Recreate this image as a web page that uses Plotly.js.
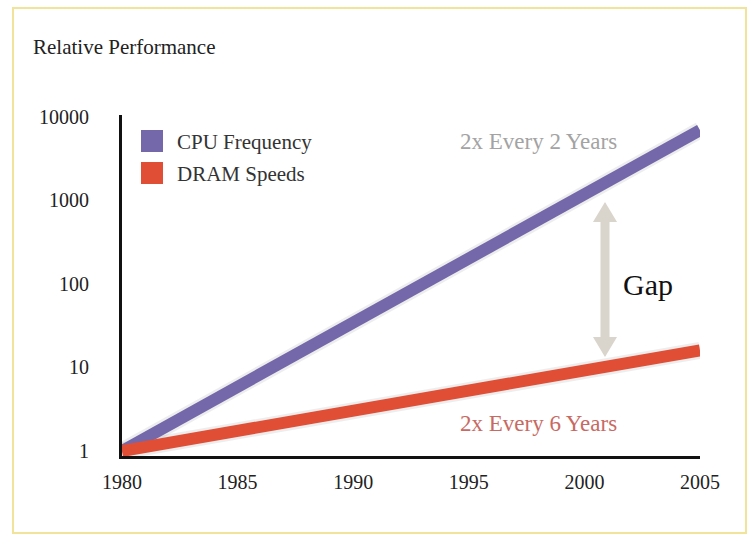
<!DOCTYPE html>
<html>
<head>
<meta charset="utf-8">
<script src="https://cdn.plot.ly/plotly-3.0.1.min.js"></script>
<style>
  html, body { margin: 0; padding: 0; background: #ffffff; }
  #chart { width: 751px; height: 536px; }
</style>
</head>
<body>
<div id="chart"></div>
<script>
// ---- data ----
const years = [1980, 2005];
const cpuFrequency = [1, 6900];
const dramSpeeds = [1, 16];
const seriesNames = ['CPU Frequency', 'DRAM Speeds'];
const xTickVals = [1980, 1985, 1990, 1995, 2000, 2005];
const xTickText = ['1980', '1985', '1990', '1995', '2000', '2005'];
const yTickVals = [1, 10, 100, 1000, 10000];
const yTickText = ['1', '10', '100', '1000', '10000'];
const cpuNote = '2x Every 2 Years';
const dramNote = '2x Every 6 Years';
const gapLabel = 'Gap';
const chartTitle = 'Relative Performance';

// ---- styling / layout ----
const W = 751, H = 536;
const M = { l: 122, r: 51, t: 115, b: 80 };
const PW = W - M.l - M.r, PH = H - M.t - M.b;
const px = v => (v - M.l) / PW;            // pixel x -> paper x
const py = v => (M.t + PH - v) / PH;       // pixel y -> paper y
const serif = 'Liberation Serif, Times New Roman, serif';
const cpuColor = '#7467aa';
const dramColor = '#e14e36';

const traces = [
  { x: years, y: cpuFrequency, mode: 'lines', name: seriesNames[0],
    line: { color: 'rgba(0,0,0,0.07)', width: 17 }, hoverinfo: 'skip', showlegend: false },
  { x: years, y: dramSpeeds, mode: 'lines', name: seriesNames[1],
    line: { color: 'rgba(0,0,0,0.07)', width: 17 }, hoverinfo: 'skip', showlegend: false },
  { x: years, y: cpuFrequency, mode: 'lines', name: seriesNames[0],
    line: { color: cpuColor, width: 12 }, showlegend: false },
  { x: years, y: dramSpeeds, mode: 'lines', name: seriesNames[1],
    line: { color: dramColor, width: 12 }, showlegend: false }
];

// gap arrow (double headed) in pixels
const ax = 605, aTop = 202, aBot = 357, sh = 4.5, hh = 12, hl = 20;
const arrowPts = [
  [ax, aTop], [ax + hh, aTop + hl], [ax + sh, aTop + hl], [ax + sh, aBot - hl],
  [ax + hh, aBot - hl], [ax, aBot], [ax - hh, aBot - hl], [ax - sh, aBot - hl],
  [ax - sh, aTop + hl], [ax - hh, aTop + hl]
];
const arrowPath = 'M ' + arrowPts.map(p => px(p[0]).toFixed(5) + ',' + py(p[1]).toFixed(5)).join(' L ') + ' Z';

const shapes = [
  // outer yellow frame
  { type: 'rect', xref: 'paper', yref: 'paper', x0: px(13), x1: px(746), y0: py(533), y1: py(8),
    line: { color: '#f2e39a', width: 2 }, fillcolor: 'rgba(0,0,0,0)', layer: 'below' },
  // legend swatches
  { type: 'rect', xref: 'paper', yref: 'paper', x0: px(141), x1: px(163), y0: py(152), y1: py(130),
    line: { width: 0 }, fillcolor: cpuColor },
  { type: 'rect', xref: 'paper', yref: 'paper', x0: px(141), x1: px(163), y0: py(184), y1: py(162),
    line: { width: 0 }, fillcolor: dramColor },
  // gap arrow
  { type: 'path', xref: 'paper', yref: 'paper', path: arrowPath,
    line: { width: 0 }, fillcolor: '#d9d4cc', layer: 'below' }
];

const annotations = [
  { xref: 'paper', yref: 'paper', x: px(175), y: py(142), xanchor: 'left', yanchor: 'middle',
    text: seriesNames[0], showarrow: false, font: { family: serif, size: 21, color: '#333' } },
  { xref: 'paper', yref: 'paper', x: px(175), y: py(174), xanchor: 'left', yanchor: 'middle',
    text: seriesNames[1], showarrow: false, font: { family: serif, size: 21, color: '#333' } },
  { xref: 'paper', yref: 'paper', x: px(538), y: py(141), xanchor: 'center', yanchor: 'middle',
    text: cpuNote, showarrow: false, font: { family: serif, size: 23, color: '#a3a3a3' } },
  { xref: 'paper', yref: 'paper', x: px(538), y: py(423), xanchor: 'center', yanchor: 'middle',
    text: dramNote, showarrow: false, font: { family: serif, size: 23, color: '#c86a62' } },
  { xref: 'paper', yref: 'paper', x: px(648), y: py(284), xanchor: 'center', yanchor: 'middle',
    text: gapLabel, showarrow: false, font: { family: serif, size: 30, color: '#111' } }
];

const layout = {
  width: W, height: H,
  margin: { l: M.l, r: M.r, t: M.t, b: M.b, pad: 0 },
  paper_bgcolor: '#ffffff', plot_bgcolor: 'rgba(0,0,0,0)',
  showlegend: false,
  title: { text: chartTitle, xref: 'container', yref: 'container',
    x: 33 / W, xanchor: 'left', y: 1 - 47 / H, yanchor: 'middle',
    font: { family: serif, size: 21, color: '#222' } },
  xaxis: {
    range: [1980, 2005], showgrid: false, zeroline: false,
    showline: true, linecolor: '#111', linewidth: 3,
    tickmode: 'array', tickvals: xTickVals, ticktext: xTickText,
    ticks: '', ticklabelstandoff: 6,
    tickfont: { family: serif, size: 20, color: '#222' }, fixedrange: true
  },
  yaxis: {
    type: 'log', range: [-0.06, 4.02], showgrid: false, zeroline: false,
    showline: true, linecolor: '#111', linewidth: 3,
    tickmode: 'array', tickvals: yTickVals, ticktext: yTickText,
    ticks: '', ticklabelstandoff: 26,
    tickfont: { family: serif, size: 20, color: '#222' }, fixedrange: true
  },
  shapes: shapes,
  annotations: annotations
};

Plotly.newPlot('chart', traces, layout, { displayModeBar: false, staticPlot: true });
</script>
</body>
</html>
